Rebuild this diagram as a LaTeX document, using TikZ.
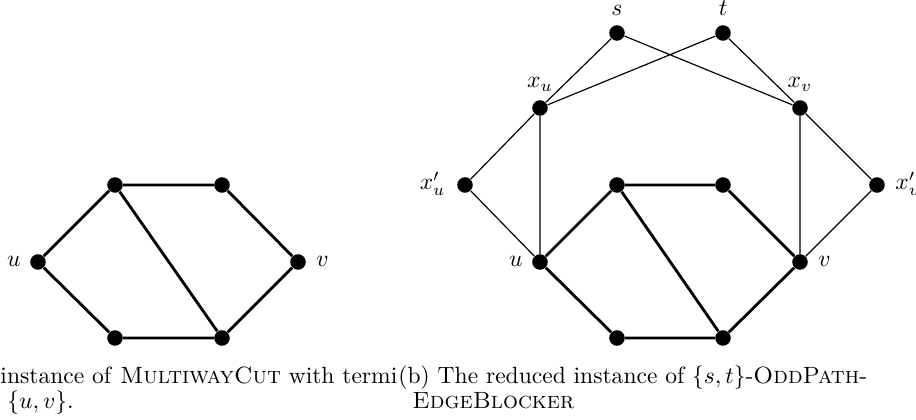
\documentclass[tikz,border=0pt]{standalone}
\begin{document}
\begin{tikzpicture}[x=0.425pt,y=-0.425pt,
  vtx/.style={circle,fill=black,draw=none,minimum size=6.6pt,inner sep=0pt},
  lbl/.style={inner sep=0pt},
  heavy/.style={line width=1.2pt},
  light/.style={line width=0.5pt},
  captext/.style={inner sep=0pt,anchor=base west}]
\useasboundingbox (0,0) rectangle (916,420);
% left graph
\node[vtx] (au) at (38,262) {};
\node[vtx] (atl) at (115,185) {};
\node[vtx] (atr) at (222,185) {};
\node[vtx] (av) at (298,262) {};
\node[vtx] (abl) at (115,338) {};
\node[vtx] (abr) at (222,338) {};
\node[lbl,anchor=base east] (aul) at (21,267) {$u$};
\node[lbl,anchor=base west] (avl) at (316,267) {$v$};
\draw[heavy] (au) -- (atl) -- (atr) -- (av) -- (abr) -- (abl) -- (au);
\draw[heavy] (atl) -- (abr);
% right graph
\node[vtx] (bu) at (540,262) {};
\node[vtx] (btl) at (617,185) {};
\node[vtx] (btr) at (723,185) {};
\node[vtx] (bv) at (800,262) {};
\node[vtx] (bbl) at (617,338) {};
\node[vtx] (bbr) at (723,338) {};
\node[lbl,anchor=base east] (bul) at (523,267) {$u$};
\node[lbl,anchor=base west] (bvl) at (818,267) {$v$};
\draw[heavy] (bu) -- (btl) -- (btr) -- (bv) -- (bbr) -- (bbl) -- (bu);
\draw[heavy] (btl) -- (bbr);
\node[vtx] (s) at (617,33) {};
\node[vtx] (t) at (723,33) {};
\node[vtx] (xu) at (540,108) {};
\node[vtx] (xv) at (800,108) {};
\node[vtx] (xpu) at (465,185) {};
\node[vtx] (xpv) at (877,185) {};
\node[lbl,anchor=base] (sl) at (617,16) {$s$};
\node[lbl,anchor=base] (tl) at (723,16) {$t$};
\node[lbl,anchor=base] (xul) at (540,88) {$x_u$};
\node[lbl,anchor=base] (xvl) at (800,88) {$x_v$};
\node[lbl,anchor=base east] (xpul) at (446,190) {$x'_u$};
\node[lbl,anchor=base west] (xpvl) at (895,190) {$x'_v$};
\draw[light] (s) -- (xu) (s) -- (xv) (t) -- (xu) (t) -- (xv);
\draw[light] (xu) -- (xpu) -- (bu) (xu) -- (bu);
\draw[light] (xv) -- (xpv) -- (bv) (xv) -- (bv);
% captions
\node[captext] (ca1) at (0,384) {instance of \textsc{MultiwayCut} with termi};
\node[captext] (ca2) at (7,409) {$\{u,v\}$.};
\node[captext] (cb1) at (398,384) {(b) The reduced instance of $\{s,t\}$-\textsc{OddPath}-};
\node[captext] (cb2) at (412,409) {\textsc{EdgeBlocker}};
\end{tikzpicture}
\end{document}
